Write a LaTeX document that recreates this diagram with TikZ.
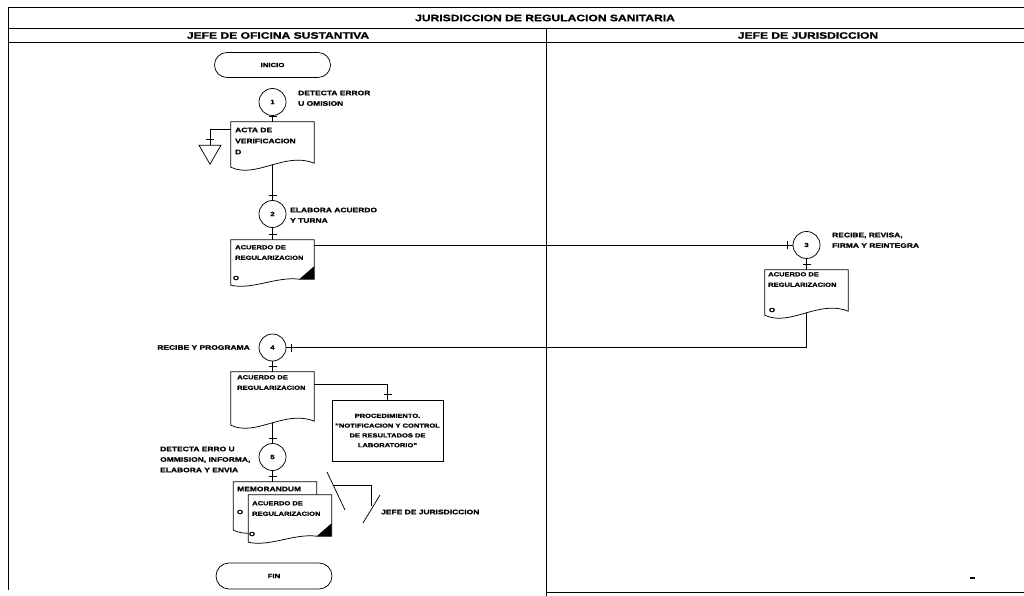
\documentclass[tikz,border=0pt]{standalone}
\usepackage{fontspec}
\setmainfont{Liberation Sans}[FakeStretch=1.3, BoldFeatures={FakeBold=1.2}]
\usetikzlibrary{shapes.geometric,shapes.misc,decorations.markings,calc}

% plain document symbol: wavy bottom edge
\newcommand\docoutline[2][]{%
  \draw[docline,#1] (#2.north west) -- (#2.north east) -- ([yshift=4pt]#2.south east)
    .. controls ($(#2.south west)!0.65!(#2.south east)+(0pt,16pt)$)
       and ($(#2.south west)!0.3!(#2.south east)+(0pt,-12pt)$) .. (#2.south west) -- cycle;}
% document symbol with a dark folded corner
\newcommand\tagdoc[2][]{%
  \draw[docline,#1] (#2.north west) -- (#2.north east) -- ([yshift=6pt]#2.south east)
    -- ([shift={(-15pt,6pt)}]#2.south east)
    .. controls ($(#2.south west)!0.55!(#2.south east)+(0pt,9pt)$)
       and ($(#2.south west)!0.25!(#2.south east)+(0pt,-5pt)$) .. (#2.south west) -- cycle;
  \fill ([shift={(-15pt,6pt)}]#2.south east) -- ([yshift=6pt]#2.south east)
    -- ([yshift=19pt]#2.south east) -- cycle;}

\begin{document}
\begin{tikzpicture}[x=1pt,y=-1pt,
  frame/.style={line width=1pt},
  conn/.style={line width=0.75pt},
  tk/.style={conn, postaction={decorate},
    decoration={markings, mark=at position -5pt with {\draw[line width=0.75pt] (0pt,-4pt) -- (0pt,4pt);}}},
  docline/.style={line width=0.75pt},
  docbox/.style={rectangle, minimum width=83pt, inner sep=0pt, draw=none},
  txt/.style={inner sep=0pt, align=left, font=\bfseries\fontsize{6.5}{10.5}\selectfont},
  doctxt/.style={inner sep=0pt, align=left, anchor=north west, font=\bfseries\fontsize{5.8}{10.5}\selectfont},
  otag/.style={inner sep=0pt, font=\bfseries\fontsize{6}{7}\selectfont},
  stepcirc/.style={circle, draw, line width=0.75pt, minimum size=27pt, inner sep=0pt, font=\bfseries\fontsize{6}{7}\selectfont},
  term/.style={rounded rectangle, draw, line width=0.75pt, minimum width=116pt, minimum height=25pt, inner sep=0pt, font=\bfseries\fontsize{6}{7}\selectfont},
  head/.style={inner sep=0pt, font=\bfseries\fontsize{9.3}{11}\selectfont},
]
\fill[white] (0,0) rectangle (1024,596);
\useasboundingbox (0,0) rectangle (1024,596);

% swimlane frame
\draw[frame] (1024,8) -- (8,8) -- (8,590);
\draw[frame] (8,29) -- (1024,29);
\draw[frame] (8,43) -- (1024,43);
\draw[frame] (546,29) -- (546,596);
\draw[frame] (546,592) -- (1024,592);
\node[head] (title) at (545,18) {JURISDICCION DE REGULACION SANITARIA};
\node[head] (hleft) at (278,35.5) {JEFE DE OFICINA SUSTANTIVA};
\node[head] (hright) at (808,35.5) {JEFE DE JURISDICCION};

% start
\node[term] (inicio) at (272.5,65) {INICIO};

% step 1
\node[stepcirc] (c1) at (272.5,102) {1};
\node[txt, anchor=north west] (l1) at (298,90.5) {DETECTA ERROR\\U OMISION};
\node[docbox, minimum height=45pt] (d1) at (272.5,144.5) {};
\docoutline{d1}
\node[doctxt, font=\bfseries\fontsize{6.5}{11}\selectfont] (d1t) at (235,127.5) {ACTA DE\\VERIFICACION\\D};
\draw[tk] (c1.south) -- (c1.south |- d1.north);
\node[regular polygon, regular polygon sides=3, shape border rotate=180, draw, line width=0.75pt,
      minimum size=25.4pt, inner sep=0pt] (tri) at (210,151.5) {};
\draw[tk] ([yshift=-8pt]d1.north west) -| (tri.north);

% step 2
\node[stepcirc] (c2) at (272.5,214) {2};
\draw[tk] ([yshift=2pt]d1.south) -- (c2.north);
\node[txt, anchor=north west] (l2) at (290,207.5) {ELABORA ACUERDO\\Y TURNA};
\node[docbox, minimum height=45pt] (d2) at (272.5,262.5) {};
\tagdoc{d2}
\draw[tk] (c2.south) -- (d2.north);
\node[doctxt] (d2t) at (235,245) {ACUERDO DE\\REGULARIZACION};
\node[otag] (d2o) at (236,278) {O};

% step 3
\node[stepcirc] (c3) at (806.5,245) {3};
\draw[tk] (d2.east |- c3.west) -- (c3.west);
\node[txt, anchor=north west] (l3) at (832,232.5) {RECIBE, REVISA,\\FIRMA Y REINTEGRA};
\node[docbox, minimum height=45pt] (d3) at (806.5,292.5) {};
\docoutline{d3}
\draw[tk] (c3.south) -- (d3.north);
\node[doctxt] (d3t) at (768,272) {ACUERDO DE\\REGULARIZACION};
\node[otag] (d3o) at (772,310) {O};

% step 4
\node[stepcirc] (c4) at (272.5,347.5) {4};
\draw[tk] ([yshift=2pt]d3.south) |- (c4.east);
\node[txt, anchor=east] (l4) at (250,347.5) {RECIBE Y PROGRAMA};
\node[docbox, minimum height=53pt] (d4) at (272.5,398.5) {};
\docoutline{d4}
\draw[tk] (c4.south) -- (d4.north);
\node[doctxt] (d4t) at (237,375) {ACUERDO DE\\REGULARIZACION};
\node[draw, rectangle, line width=0.75pt, minimum width=111pt, minimum height=61pt, inner sep=0pt,
      align=center, font=\bfseries\fontsize{5.8}{9.8}\selectfont] (proc) at (387.5,430.5)
  {PROCEDIMIENTO.\\"NOTIFICACION Y CONTROL\\DE RESULTADOS DE\\LABORATORIO"};
\draw[tk] ([yshift=-13pt]d4.north east) -| (proc.north);

% step 5
\node[stepcirc] (c5) at (272.5,457) {5};
\draw[tk] ([yshift=2pt]d4.south) -- (c5.north);
\node[txt, anchor=north west] (l5) at (160,446.5) {DETECTA ERRO U\\OMMISION, INFORMA,\\ELABORA Y ENVIA};
\node[docbox, minimum height=48pt] (memo) at (275,506) {};
\docoutline{memo}
\draw[tk] (c5.south) -- (c5.south |- memo.north);
\node[doctxt, font=\bfseries\fontsize{6.5}{10.5}\selectfont] (memot) at (237,486.5) {MEMORANDUM};
\node[otag] (memoo) at (240,512) {O};
\node[docbox, minimum height=47pt] (d6) at (290,518.5) {};
\tagdoc[fill=white]{d6}
\node[doctxt] (d6t) at (252,501) {ACUERDO DE\\REGULARIZACION};
\node[otag] (d6o) at (252,534) {O};

% routing mark towards the jurisdiction head
\coordinate (s1a) at (327,472);
\coordinate (s1b) at (345,510);
\coordinate (ba) at (333,485);
\coordinate (bb) at (371,506);
\coordinate (s2a) at (380,495);
\coordinate (s2b) at (363,523);
\draw[conn] (s1a) -- (s1b);
\draw[conn] (ba) -| (bb);
\draw[conn] (s2a) -- (s2b);
\node[txt, anchor=west] (jj) at (381,512) {JEFE DE JURISDICCION};

% end
\node[term, minimum height=26pt] (fin) at (274,576) {FIN};
\draw[line width=1.5pt] (970,578) -- (975,578);
\end{tikzpicture}
\end{document}
